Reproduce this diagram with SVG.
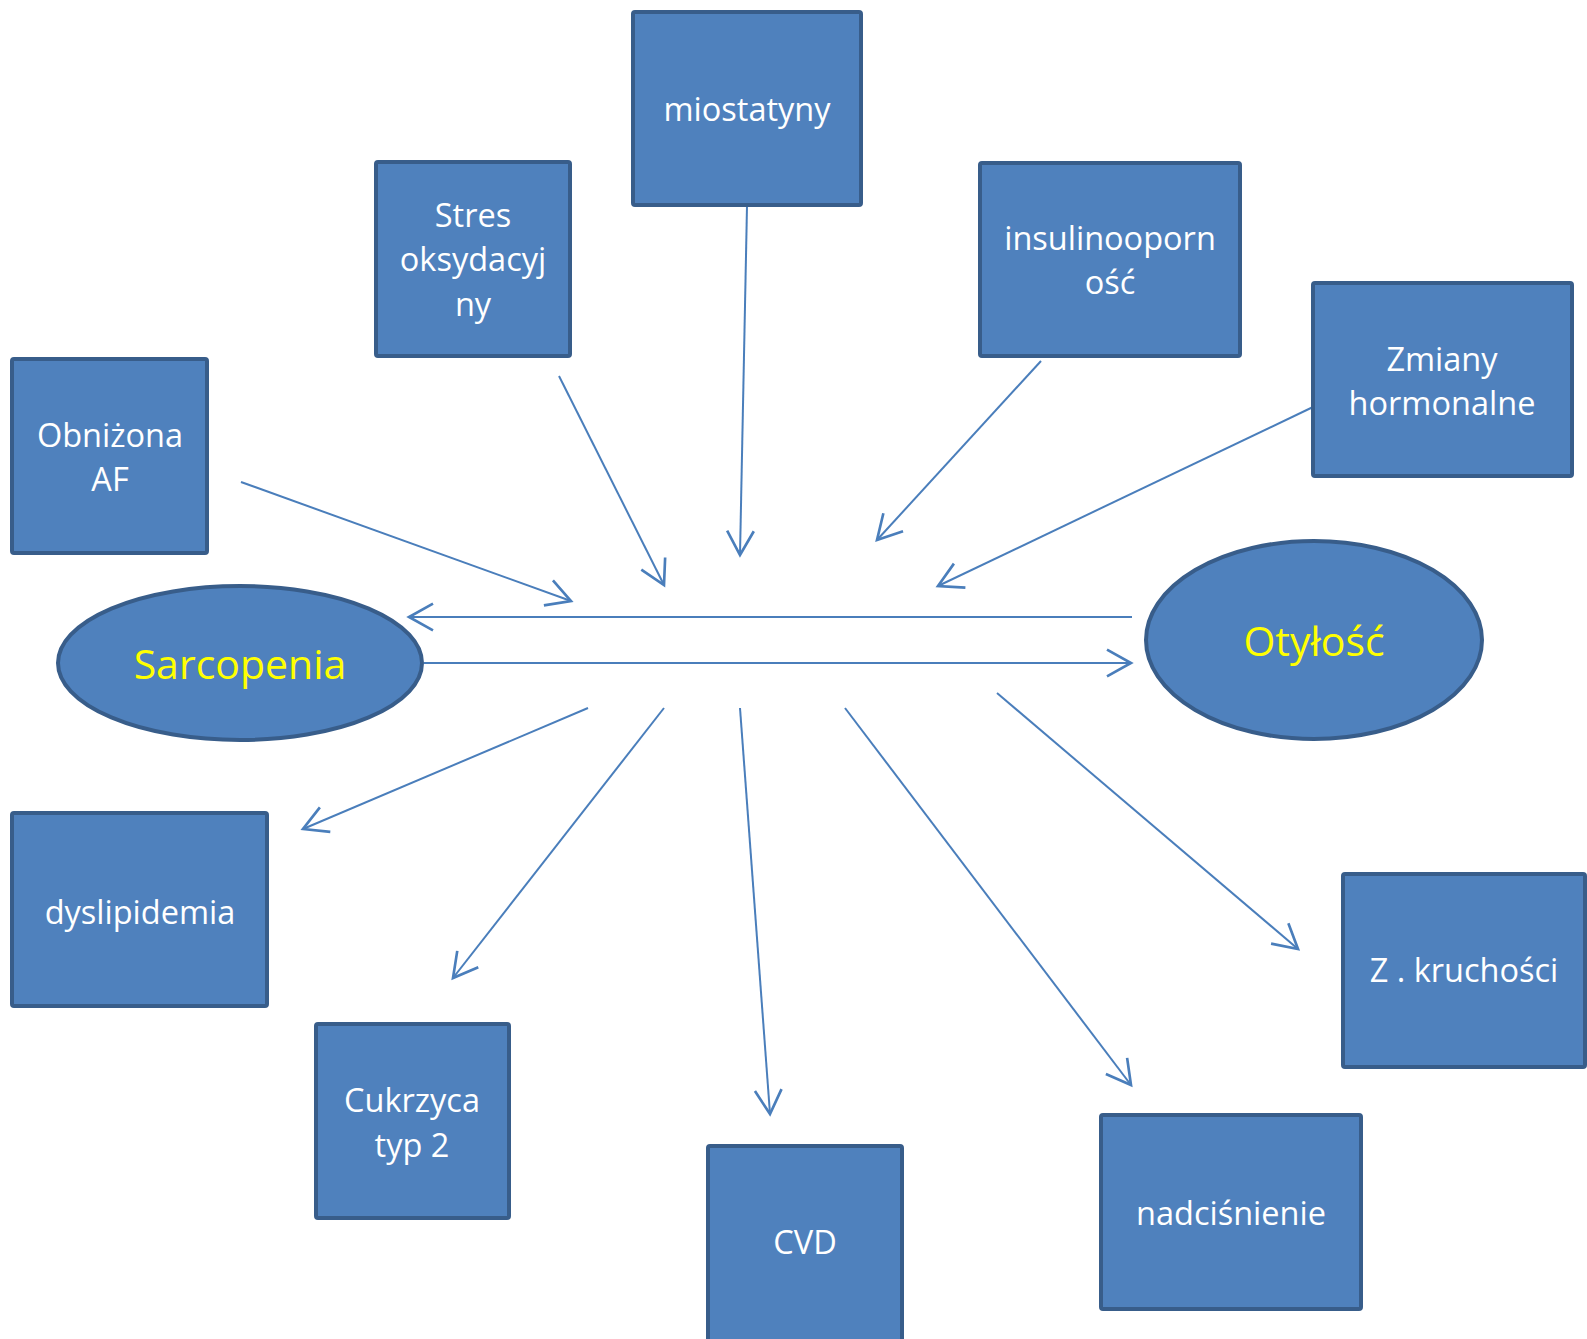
<svg xmlns="http://www.w3.org/2000/svg" width="1587" height="1339" viewBox="0 0 1587 1339">
<style>
.box{fill:#4f81bd;stroke:#385d8a;stroke-width:4}
.t{fill:#ffffff;font-family:"Open Sans","Noto Sans",sans-serif;font-size:32.5px;text-anchor:middle}
.big{fill:#ffff00;font-family:"Open Sans","Noto Sans",sans-serif;font-size:41px;text-anchor:middle}
.c{stroke:#4a7ebb;stroke-width:2;fill:none;marker-end:url(#arr)}
</style>
<defs>
<marker id="arr" markerUnits="userSpaceOnUse" markerWidth="40" markerHeight="40" viewBox="-25 -15 30 30" refX="0" refY="0" orient="auto" overflow="visible">
<path d="M-18,-10 L0,0 L-18,10" fill="none" stroke="#4a7ebb" stroke-width="2"/>
</marker>
</defs>
<rect width="1587" height="1339" fill="#ffffff"/>
<g id="connectors">
<line class="c" x1="241" y1="482" x2="571" y2="601"/>
<line class="c" x1="559" y1="376" x2="664" y2="585"/>
<line class="c" x1="747" y1="206" x2="740" y2="555"/>
<line class="c" x1="1041" y1="361" x2="877" y2="540"/>
<line class="c" x1="1313" y1="407" x2="938" y2="586"/>
<line class="c" x1="1132" y1="617" x2="409" y2="617"/>
<line class="c" x1="424" y1="663" x2="1131" y2="663"/>
<line class="c" x1="588" y1="708" x2="303" y2="829"/>
<line class="c" x1="664" y1="708" x2="453" y2="978"/>
<line class="c" x1="740" y1="708" x2="770" y2="1114"/>
<line class="c" x1="845" y1="708" x2="1131" y2="1085"/>
<line class="c" x1="997" y1="693" x2="1298" y2="949"/>
</g>
<g id="miostatyny"><rect class="box" x="633" y="12" width="228" height="193" rx="2"/><text class="t" x="747" y="121">miostatyny</text></g>
<g id="stres"><rect class="box" x="376" y="162" width="194" height="194" rx="2"/><text class="t" x="473" y="227">Stres</text><text class="t" x="473" y="271">oksydacyj</text><text class="t" x="473" y="316">ny</text></g>
<g id="insulinoopornosc"><rect class="box" x="980" y="163" width="260" height="193" rx="2"/><text class="t" x="1110" y="250">insulinooporn</text><text class="t" x="1110" y="294">ość</text></g>
<g id="zmiany"><rect class="box" x="1313" y="283" width="259" height="193" rx="2"/><text class="t" x="1442" y="371">Zmiany</text><text class="t" x="1442" y="415">hormonalne</text></g>
<g id="obnizona"><rect class="box" x="12" y="359" width="195" height="194" rx="2"/><text class="t" x="110" y="447">Obniżona</text><text class="t" x="110" y="491">AF</text></g>
<g id="sarcopenia"><ellipse class="box" cx="240" cy="663" rx="182" ry="77"/><text class="big" x="240" y="679">Sarcopenia</text></g>
<g id="otylosc"><ellipse class="box" cx="1314" cy="640" rx="168" ry="99"/><text class="big" x="1314" y="656">Otyłość</text></g>
<g id="dyslipidemia"><rect class="box" x="12" y="813" width="255" height="193" rx="2"/><text class="t" x="140" y="924">dyslipidemia</text></g>
<g id="cukrzyca"><rect class="box" x="316" y="1024" width="193" height="194" rx="2"/><text class="t" x="412" y="1112">Cukrzyca</text><text class="t" x="412" y="1157">typ 2</text></g>
<g id="cvd"><rect class="box" x="708" y="1146" width="194" height="196" rx="2"/><text class="t" x="805" y="1254">CVD</text></g>
<g id="nadcisnienie"><rect class="box" x="1101" y="1115" width="260" height="194" rx="2"/><text class="t" x="1231" y="1225">nadciśnienie</text></g>
<g id="zkruchosci"><rect class="box" x="1343" y="874" width="242" height="193" rx="2"/><text class="t" x="1464" y="982">Z . kruchości</text></g>
</svg>
